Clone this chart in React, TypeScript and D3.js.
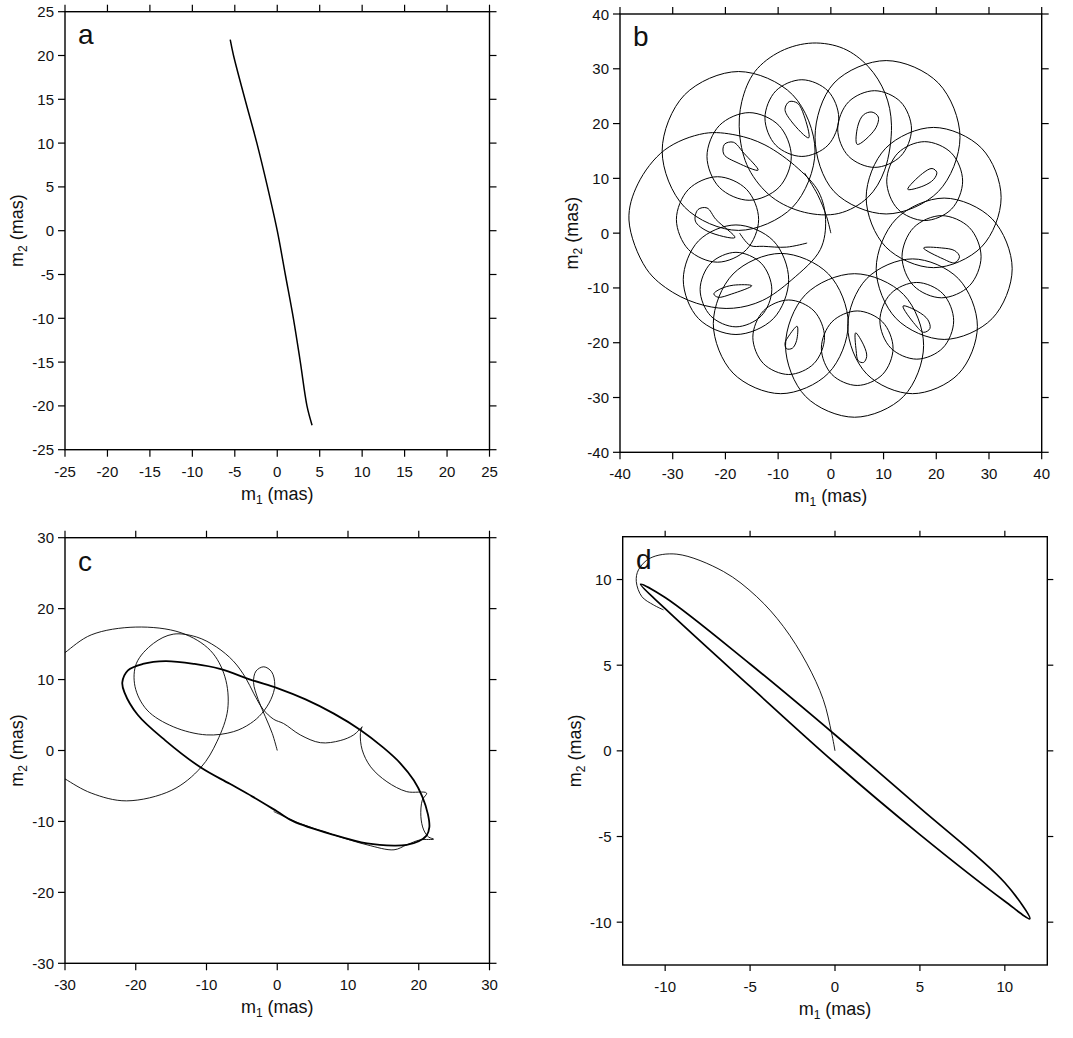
import React from 'react';
import * as d3 from 'd3';

type Pt = [number, number];

// tick values
const ticksA = [-25, -20, -15, -10, -5, 0, 5, 10, 15, 20, 25];
const ticksB = [-40, -30, -20, -10, 0, 10, 20, 30, 40];
const ticksC = [-30, -20, -10, 0, 10, 20, 30];
const ticksD = [-10, -5, 0, 5, 10];

// panel a: single track
const trackA: Pt[] = [[-5.54, 21.8], [-5.15, 20], [-3.8, 15], [-2.4, 10], [-1.15, 5], [0, 0], [0.95, -5], [1.9, -10], [2.72, -15], [3.5, -20], [4.1, -22.2]];

// panel b: the ten big loops
const outerLoopsB: Pt[][] = [
  [[11.5, 19.7], [10.3, 25.5], [7.1, 30.4], [2.4, 33.7], [-3.5, 34.7], [-9.5, 33.2], [-14.4, 29.5], [-16.9, 24], [-17.3, 18], [-15.6, 11.8], [-11.2, 6.6], [-5, 3.8], [1.5, 3.6], [7, 6.5], [10.2, 11.5]],
  [[24.5, 17.5], [20.4, 27.4], [10.5, 31.5], [0.6, 27.4], [-3, 17.5], [0.6, 7.6], [10.5, 3.5], [20.4, 7.6]],
  [[32.3, 6.5], [28.6, 15.5], [19.5, 19.3], [10.4, 15.5], [6.7, 6.5], [10.4, -2.5], [19.5, -6.3], [28.6, -2.5]],
  [[34.4, -6.5], [30.6, 2.6], [21.5, 6.4], [12.4, 2.6], [8.6, -6.5], [12.4, -15.6], [21.5, -19.4], [30.6, -15.6]],
  [[27.8, -17], [24.2, -8.3], [15.5, -4.7], [6.8, -8.3], [3.2, -17], [6.8, -25.7], [15.5, -29.3], [24.2, -25.7]],
  [[17.6, -20.5], [13.8, -11.2], [4.5, -7.4], [-4.8, -11.2], [-8.6, -20.5], [-4.8, -29.8], [4.5, -33.6], [13.8, -29.8]],
  [[3.3, -16.5], [-0.45, -7.45], [-9.5, -3.7], [-18.55, -7.45], [-22.3, -16.5], [-18.55, -25.55], [-9.5, -29.3], [-0.45, -25.55]],
  [[-8, -8.5], [-10.9, -1.4], [-18, 1.5], [-25.1, -1.4], [-28, -8.5], [-25.1, -15.6], [-18, -18.5], [-10.9, -15.6]],
  [[-38.3, 2.4], [-36.6, 9], [-31.5, 15.2], [-24, 18.2], [-18, 17.9], [-12.5, 16.1], [-6.2, 11.8], [-2.3, 7.5], [-1, 2.5], [-2, -3], [-7.4, -8.5], [-13, -12.3], [-18.5, -13.7], [-24, -13.2], [-30, -10.8], [-35, -6.5]],
  [[-3, 15], [-7.25, 25.25], [-17.5, 29.5], [-27.75, 25.25], [-32, 15], [-27.75, 4.75], [-17.5, 0.5], [-7.25, 4.75]],
];

// panel b: middle loops
const middleLoopsB: Pt[][] = [
  [[1.5, 21], [-0.55, 25.95], [-5.5, 28], [-10.45, 25.95], [-12.5, 21], [-10.45, 16.05], [-5.5, 14], [-0.55, 16.05]],
  [[15.3, 19], [13.25, 23.95], [8.3, 26], [3.35, 23.95], [1.3, 19], [3.35, 14.05], [8.3, 12], [13.25, 14.05]],
  [[25, 9.5], [22.9, 14.6], [17.8, 16.7], [12.7, 14.6], [10.6, 9.5], [12.7, 4.4], [17.8, 2.3], [22.9, 4.4]],
  [[28.5, -4.3], [26.3, 1], [21, 3.2], [15.7, 1], [13.5, -4.3], [15.7, -9.6], [21, -11.8], [26.3, -9.6]],
  [[23.3, -16], [21.25, -11.05], [16.3, -9], [11.35, -11.05], [9.3, -16], [11.35, -20.95], [16.3, -23], [21.25, -20.95]],
  [[11.8, -21], [9.8, -16.2], [5, -14.2], [0.2, -16.2], [-1.8, -21], [0.2, -25.8], [5, -27.8], [9.8, -25.8]],
  [[-1.2, -19], [-3.2, -14.2], [-8, -12.2], [-12.8, -14.2], [-14.8, -19], [-12.8, -23.8], [-8, -25.8], [-3.2, -23.8]],
  [[-11.2, -10.3], [-13.2, -5.5], [-18, -3.5], [-22.8, -5.5], [-24.8, -10.3], [-22.8, -15.1], [-18, -17.1], [-13.2, -15.1]],
  [[-13.7, 2.5], [-16, 8], [-21.5, 10.3], [-27, 8], [-29.3, 2.5], [-27, -3], [-21.5, -5.3], [-16, -3]],
  [[-7.5, 14], [-9.85, 19.65], [-15.5, 22], [-21.15, 19.65], [-23.5, 14], [-21.15, 8.35], [-15.5, 6], [-9.85, 8.35]],
];

// panel b: small tear-shaped curls
const curlsB: Pt[][] = [
  [[-4.2, 17.4], [-5.1, 21.5], [-6.3, 23.7], [-7.9, 24.0], [-8.7, 22.6], [-7.4, 20.3]],
  [[5.0, 16.2], [5.1, 19.5], [6.2, 21.6], [7.8, 22.1], [9.0, 21.2], [8.4, 19.0]],
  [[14.6, 8.0], [17.5, 8.6], [19.5, 9.8], [20.1, 11.1], [19.2, 11.8], [17.4, 10.9]],
  [[17.6, -2.7], [21, -2.7], [23.5, -3.2], [24.4, -4.3], [23.5, -5.4], [21.3, -4.7]],
  [[13.7, -13.3], [16.5, -14.3], [18.4, -15.8], [18.8, -17.4], [17.6, -18.1], [16.0, -16.7]],
  [[4.7, -18.2], [6.3, -20.6], [6.8, -22.5], [6.2, -23.6], [5.2, -23.3], [4.8, -21.4]],
  [[-6.4, -17.0], [-6.5, -19.6], [-7.3, -21], [-8.4, -21.1], [-8.7, -20.1], [-8.0, -18.8]],
  [[-15.0, -9.6], [-18.5, -9.5], [-21, -10.2], [-22.2, -11.1], [-21.4, -11.7], [-18.8, -11.1]],
  [[-18.2, -0.8], [-21.8, 2.5], [-23.5, 4.6], [-25.2, 4.3], [-25.7, 2.2], [-23.3, 0.3]],
  [[-13.8, 11.5], [-16.5, 14.6], [-18.5, 16.6], [-20.2, 16.2], [-20.3, 14.4], [-17.6, 12.8]],
];

// panel b: the two free ends of the track
const startB: Pt[] = [[0, 0], [-0.8, 3], [-2.5, 7], [-5, 11]];
const endB: Pt[] = [[-17.3, 0], [-15.3, -2.25], [-12.8, -2.4], [-8.4, -2.55], [-4.5, -1.8]];

// panel c: settled orbit (thick) and early track (thin)
const orbitC: Pt[] = [[-21.9, 9.6], [-21.1, 11.3], [-19.0, 12.2], [-15.8, 12.6], [-11.7, 12.2], [-8.1, 11.5], [-3.5, 9.9], [0, 8.8], [4, 7.2], [8, 5.2], [11.75, 2.9], [15, 0.4], [17.4, -1.8], [19.3, -4.2], [20.5, -6.5], [21.3, -9.0], [21.5, -10.8], [21.1, -12.0], [20.0, -12.8], [18.3, -13.3], [16.5, -13.4], [12.7, -13.1], [8, -11.9], [2.3, -10.0], [0, -8.6], [-3.5, -6.5], [-6.7, -4.7], [-10.8, -2.4], [-15.8, 1.4], [-19.7, 5.0], [-21.6, 8.2]];
const bigLoopC: Pt[] = [[-31.5, 12.6], [-30, 13.8], [-26.3, 16.3], [-20, 17.4], [-13.6, 16.6], [-9.45, 14.1], [-7.4, 10.4], [-7.0, 5.8], [-8.5, 1.3], [-10.8, -2.4], [-14.9, -5.6], [-21.3, -7.1], [-26.3, -6.0], [-30, -4.0], [-31.5, -3.0]];
const earlyC: Pt[] = [[0, 0], [-0.7, 2.4], [-1.7, 4.8], [-2.7, 7.2], [-3.35, 9.6], [-3.0, 11.2], [-1.9, 11.8], [-0.8, 11.1], [-0.35, 9.2], [-0.9, 7.2], [-2.2, 5.2], [-3.8, 3.8], [-6.2, 2.65], [-10, 2.2], [-14.7, 3.35], [-18.4, 5.7], [-20.1, 9.0], [-19.9, 12.3], [-17.5, 15.1], [-14.7, 16.4], [-11.4, 16.0], [-8.6, 14.6], [-6.2, 12.6], [-4.5, 10.3], [-3.3, 8.0], [-2, 5.8], [-0.5, 4.4], [0.9, 3.8], [3.25, 2.2], [6.1, 1.1], [8.9, 1.4], [10.8, 2.2], [12, 3.35]];
const cuspsC: Pt[] = [[12, 3.35], [11.75, 2.4], [12, 0.1], [13.2, -2.3], [15.5, -4.4], [18.3, -5.8], [21.1, -6.0], [20.5, -7.0], [20.3, -9.3], [20.7, -11.2], [21.4, -12.2], [22.1, -12.5], [20.2, -12.6], [18.3, -13.3], [16.5, -14.0], [12.7, -13.3], [8, -11.9], [3.25, -10.3], [-0.5, -8.6]];

// panel d
const orbitD: Pt[] = [[-11.45, 9.72], [-10, 8.95], [-5, 5.07], [0, 0.94], [5, -3.33], [10, -7.7], [11.47, -9.8], [10, -8.78], [5, -4.89], [0, -0.71], [-5, 3.76], [-10, 8.3]];
const earlyD: Pt[] = [[0, 0], [-0.2, 1.04], [-0.69, 2.99], [-1.67, 5.12], [-3.04, 7.26], [-4.61, 9.0], [-6.57, 10.47], [-9.31, 11.48], [-10.88, 11.25], [-11.57, 10.57], [-11.7, 9.88], [-11.37, 9.0], [-10.69, 8.52], [-10.1, 8.23]];

const font = '"Liberation Sans", Arial, Helvetica, sans-serif';

type Track = { pts: Pt[]; closed?: boolean; w: number };

type PanelProps = {
  id: string;
  x0: number; x1: number; y0: number; y1: number;
  dom: [number, number];
  ticks: number[];
  tracks: Track[];
  letter: string;
  lx: number; ly: number;
  tickLen?: number;
};

function Panel(p: PanelProps) {
  const sx = d3.scaleLinear().domain(p.dom).range([p.x0, p.x1]);
  const sy = d3.scaleLinear().domain(p.dom).range([p.y1, p.y0]);
  const tl = p.tickLen ?? 7;
  const open = d3.line<Pt>().x(d => sx(d[0])).y(d => sy(d[1])).curve(d3.curveCatmullRom.alpha(0.5));
  const shut = d3.line<Pt>().x(d => sx(d[0])).y(d => sy(d[1])).curve(d3.curveCatmullRomClosed.alpha(0.5));
  const midX = (p.x0 + p.x1) / 2;
  const midY = (p.y0 + p.y1) / 2;
  return (
    <g>
      <defs>
        <clipPath id={'clip-' + p.id}>
          <rect x={p.x0} y={p.y0} width={p.x1 - p.x0} height={p.y1 - p.y0} />
        </clipPath>
      </defs>
      <g clipPath={`url(#clip-${p.id})`} fill="none" stroke="#000" strokeLinejoin="round">
        {p.tracks.map((t, i) => (
          <path key={i} d={(t.closed ? shut : open)(t.pts) || ''} strokeWidth={t.w} />
        ))}
      </g>
      <rect x={p.x0} y={p.y0} width={p.x1 - p.x0} height={p.y1 - p.y0} fill="none" stroke="#000" strokeWidth={1.4} />
      {p.ticks.map(t => (
        <g key={'x' + t} stroke="#000" strokeWidth={1.2}>
          <line x1={sx(t)} x2={sx(t)} y1={p.y1} y2={p.y1 + tl} />
          <line x1={sx(t)} x2={sx(t)} y1={p.y0} y2={p.y0 - tl} />
          <line x1={p.x0} x2={p.x0 - tl} y1={sy(t)} y2={sy(t)} />
          <line x1={p.x1} x2={p.x1 + tl} y1={sy(t)} y2={sy(t)} />
        </g>
      ))}
      <g fontFamily={font} fontSize={15} fill="#111">
        {p.ticks.map(t => (
          <text key={'lx' + t} x={sx(t)} y={p.y1 + 27} textAnchor="middle">{t}</text>
        ))}
        {p.ticks.map(t => (
          <text key={'ly' + t} x={p.x0 - 11} y={sy(t) + 5.5} textAnchor="end">{t}</text>
        ))}
      </g>
      <text x={midX} y={p.y1 + 50} textAnchor="middle" fontFamily={font} fontSize={18} fill="#111">
        m<tspan fontSize={12} dy={4}>1</tspan><tspan dy={-4}> (mas)</tspan>
      </text>
      <text transform={`translate(${p.x0 - 42},${midY}) rotate(-90)`} textAnchor="middle" fontFamily={font} fontSize={18} fill="#111">
        m<tspan fontSize={12} dy={4}>2</tspan><tspan dy={-4}> (mas)</tspan>
      </text>
      <text x={p.lx} y={p.ly} fontFamily={font} fontSize={28} fill="#111">{p.letter}</text>
    </g>
  );
}

export default function App() {
  const tracksB: Track[] = [
    ...outerLoopsB.map(pts => ({ pts, closed: true, w: 1 })),
    ...middleLoopsB.map(pts => ({ pts, closed: true, w: 1 })),
    ...curlsB.map(pts => ({ pts, closed: true, w: 1 })),
    { pts: startB, w: 1 },
    { pts: endB, w: 1 },
  ];
  return (
    <div style={{ position: 'absolute', left: 0, top: 0 }}>
      <svg width={1073} height={1038} style={{ display: 'block', background: '#fff' }}>
        <Panel id="a" x0={65} x1={489.5} y0={11.7} y1={449.7} dom={[-25, 25]} ticks={ticksA}
          tracks={[{ pts: trackA, w: 1.5 }]} letter="a" lx={78} ly={44} />
        <Panel id="b" x0={620} x1={1041.7} y0={14} y1={452.3} dom={[-40, 40]} ticks={ticksB}
          tracks={tracksB} letter="b" lx={633} ly={46} />
        <Panel id="c" x0={65} x1={489.5} y0={537.7} y1={963.3} dom={[-30, 30]} ticks={ticksC}
          tracks={[
            { pts: orbitC, closed: true, w: 1.8 },
            { pts: bigLoopC, w: 0.9 },
            { pts: earlyC, w: 0.9 },
            { pts: cuspsC, w: 0.9 },
          ]} letter="c" lx={78} ly={571} />
        <Panel id="d" x0={622.7} x1={1047.3} y0={536.7} y1={965} dom={[-12.5, 12.5]} ticks={ticksD}
          tracks={[
            { pts: orbitD, closed: true, w: 1.7 },
            { pts: earlyD, w: 0.9 },
          ]} letter="d" lx={636} ly={569} tickLen={6} />
      </svg>
    </div>
  );
}
